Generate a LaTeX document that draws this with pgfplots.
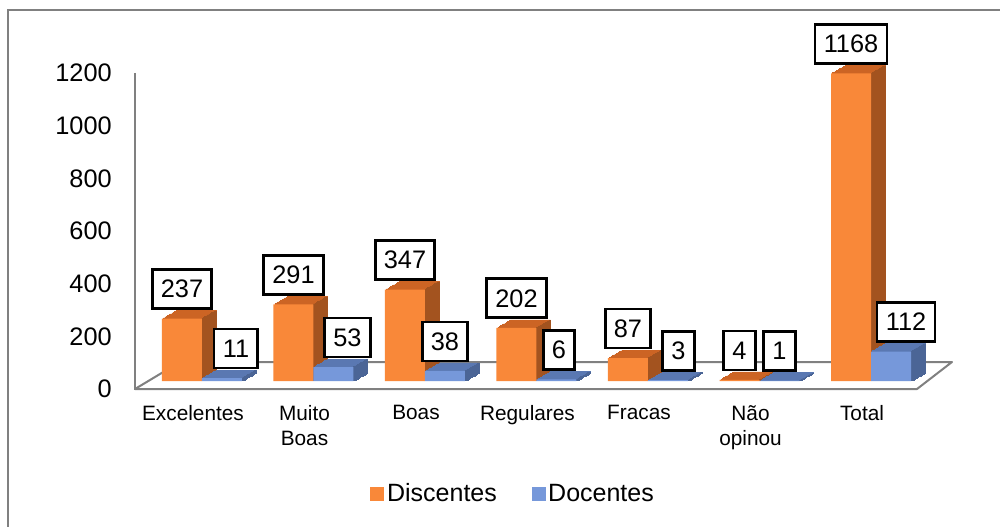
\documentclass[border=0pt]{standalone}
\usepackage{fontspec}
\setmainfont{Liberation Sans}
\usepackage{pgfplots}
\pgfplotsset{compat=1.18}
\usepackage{pgfplotstable}

\definecolor{orF}{HTML}{F98839}
\definecolor{orT}{HTML}{CC6424}
\definecolor{orS}{HTML}{A3531F}
\definecolor{blF}{HTML}{7698DA}
\definecolor{blT}{HTML}{5A78B2}
\definecolor{blS}{HTML}{4B6596}
\definecolor{framegray}{HTML}{808080}

\pgfplotstableread{
x y lx
0 237 0
1 291 0
2 347 0
3 202 0
4 87 0
5 4 0
6 1168 0
}\disc
\pgfplotstableread{
x y lx
0 11 10.5
1 53 10.5
2 38 0
3 6 1.9
4 3 7.9
5 1 0
6 112 11.25
}\doc

\begin{document}
\begin{tikzpicture}
\path[use as bounding box] (0,0) rectangle (750pt,394.5pt);
\begin{scope}[x=0.75pt,y=-0.75pt,yshift=394.5pt]
  \draw[framegray, line width=1.5pt] (8,530) -- (8,10) -- (1004,10);
  \draw[framegray, line width=1.5pt, fill=white, line join=round] (135,389) -- (917,389) -- (952,362) -- (180,362) -- cycle;
  \draw[framegray, line width=1.5pt] (135,73) -- (135,390);
\end{scope}
\begin{axis}[
  at={(101.25pt,108.75pt)}, anchor=south west,
  scale only axis, width=612.15pt, height=237pt,
  xmin=-0.52, xmax=6.8, ymin=0, ymax=1200,
  ybar, bar width=30pt,
  axis line style={draw=none}, major tick length=0pt,
  xtick={0,...,6},
  xticklabels={Excelentes,{Muito\\Boas},Boas,Regulares,Fracas,{Não\\opinou},Total},
  xticklabel style={align=center, anchor=north, inner sep=0pt, yshift=-18pt,
    font=\fontsize{15.6}{18.75}\selectfont},
  ytick={0,200,...,1200},
  yticklabel style={anchor=east, inner sep=0pt, xshift=-17.25pt, yshift=-6pt,
    font=\fontsize{19}{22}\selectfont},
  /pgf/number format/assume math mode=true,
  /pgf/number format/1000 sep={},
  clip=false,
  legend style={at={(0.4637,-0.356)}, anchor=center, draw=none, fill=none,
    legend columns=2, font=\fontsize{18.75}{22}\selectfont,
    /tikz/every even column/.append style={column sep=24pt}},
]
% ---- Discentes (orange) ----
\pgfplotsinvokeforeach{1,...,10}{
  \addplot[forget plot, fill=orT, draw=orT, line width=0.4pt, bar shift=-8.25pt,
    xshift={#1*1.05pt}, yshift={#1*0.6pt}] table[x=x,y=y]{\disc};
}
\pgfplotsinvokeforeach{1,...,10}{
  \addplot[forget plot, fill=orS, draw=orS, line width=0.3pt, bar shift=7.275pt, bar width=1.2pt,
    xshift={(#1-1)*1.05pt}, yshift={(#1-0.5)*0.6pt}] table[x=x,y=y]{\disc};
}
\addplot[fill=orF, draw=none, bar shift=-8.25pt,
  legend image code/.code={\fill[orF] (0pt,-5.25pt) rectangle (10.5pt,5.25pt);},
  ] table[x=x,y=y]{\disc};
\addlegendentry{Discentes}
% ---- Docentes (blue) ----
\pgfplotsinvokeforeach{1,...,10}{
  \addplot[forget plot, fill=blT, draw=blT, line width=0.4pt, bar shift=21.75pt,
    xshift={#1*1.05pt}, yshift={#1*0.6pt}] table[x=x,y=y]{\doc};
}
\pgfplotsinvokeforeach{1,...,10}{
  \addplot[forget plot, fill=blS, draw=blS, line width=0.3pt, bar shift=37.275pt, bar width=1.2pt,
    xshift={(#1-1)*1.05pt}, yshift={(#1-0.5)*0.6pt}] table[x=x,y=y]{\doc};
}
\addplot[fill=blF, draw=none, bar shift=21.75pt,
  legend image code/.code={\fill[blF] (0pt,-5.25pt) rectangle (10.5pt,5.25pt);},
  ] table[x=x,y=y]{\doc};
\addlegendentry{Docentes}
% ---- data labels ----
\addplot[forget plot, draw=none, fill=none, bar shift=-8.25pt,
  visualization depends on={\thisrow{lx} \as \lx},
  nodes near coords,
  every node near coord/.append style={draw=black, line width=2pt, fill=white,
    anchor=south, inner xsep=6.5pt, inner ysep=0pt, minimum height=29.25pt,
    yshift=6.5pt, xshift=\lx pt, font=\fontsize{19}{21}\selectfont, text=black},
  ] table[x=x,y=y]{\disc};
\addplot[forget plot, draw=none, fill=none, bar shift=21.75pt,
  visualization depends on={\thisrow{lx} \as \lx},
  nodes near coords,
  every node near coord/.append style={draw=black, line width=2pt, fill=white,
    anchor=south, inner xsep=6.5pt, inner ysep=0pt, minimum height=29.25pt,
    yshift=6.5pt, xshift=\lx pt, font=\fontsize{19}{21}\selectfont, text=black},
  ] table[x=x,y=y]{\doc};
\end{axis}
\end{tikzpicture}
\end{document}
